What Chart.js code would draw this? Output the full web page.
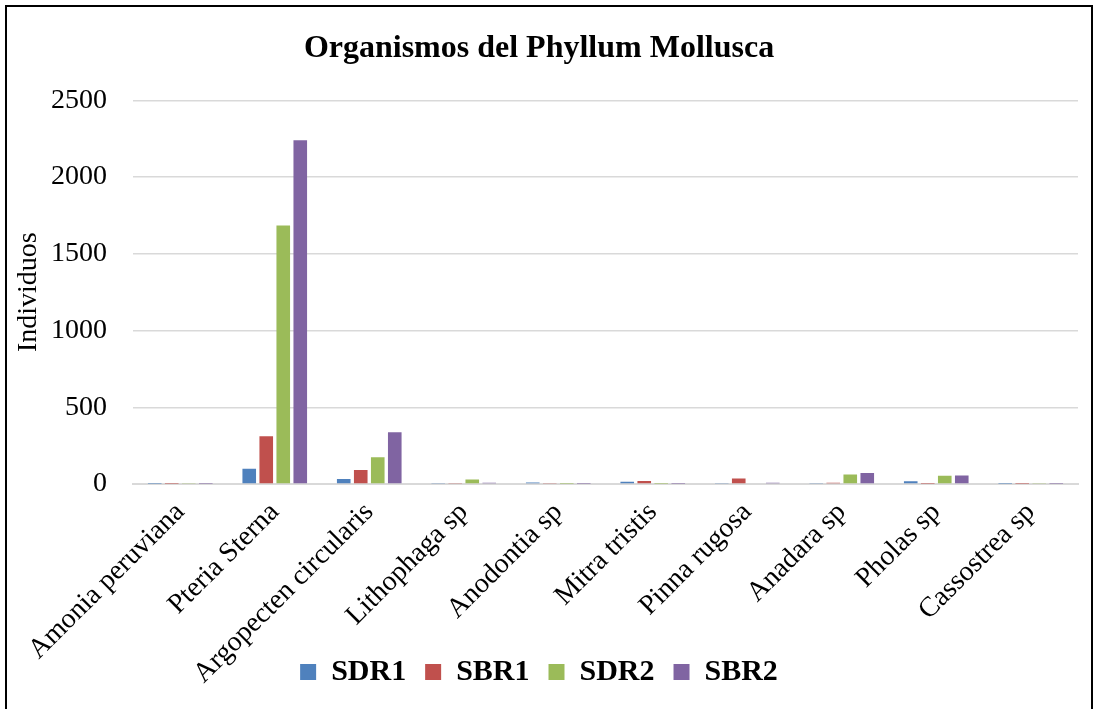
<!DOCTYPE html>
<html>
<head>
<meta charset="utf-8">
<script src="https://cdn.jsdelivr.net/npm/chart.js@4/dist/chart.umd.min.js"></script>
<style>
  body { margin: 0; background: #fff; }
  #frame {
    position: absolute; left: 5px; top: 5px; width: 1088px; height: 800px;
    box-sizing: border-box; border: 2px solid #000;
  }
  #wrap { position: absolute; left: 0; top: 0; width: 1094px; height: 709px; }
</style>
</head>
<body>
<div id="frame"></div>
<div id="wrap"><canvas id="myChart" width="1094" height="709"></canvas></div>
<script>
const species = ['Amonia peruviana', 'Pteria Sterna', 'Argopecten circularis', 'Lithophaga sp',
    'Anodontia sp', 'Mitra tristis', 'Pinna rugosa', 'Anadara sp', 'Pholas sp', 'Cassostrea sp'];

const sdr1 = [2, 100, 32, 3, 9, 15, 3, 3, 18, 2];
const sbr1 = [2, 312, 92, 3, 3, 20, 36, 8, 2, 1];
const sdr2 = [3, 1685, 175, 30, 2, 2, 5, 62, 53, 3];
const sbr2 = [2, 2240, 337, 8, 2, 1, 8, 72, 55, 2];

const yTicks = [0, 500, 1000, 1500, 2000, 2500];

const serif = "'Liberation Serif', 'Times New Roman', serif";

// the rotated category names hang down past the axis box, let them draw there
const labelRoom = {
    id: 'labelRoom',
    afterLayout(chart) {
        chart.scales.x.bottom = chart.height;
    }
};

const ctx = document.getElementById('myChart').getContext('2d');
new Chart(ctx, {
    type: 'bar',
    data: {
        labels: species,
        datasets: [
            { label: 'SDR1', data: sdr1, backgroundColor: '#4F81BD' },
            { label: 'SBR1', data: sbr1, backgroundColor: '#C0504D' },
            { label: 'SDR2', data: sdr2, backgroundColor: '#9BBB59' },
            { label: 'SBR2', data: sbr2, backgroundColor: '#8064A2' }
        ]
    },
    plugins: [labelRoom],
    options: {
        responsive: false,
        animation: false,
        layout: { padding: { left: 0, right: 16, top: 0, bottom: 12 } },
        datasets: {
            bar: { categoryPercentage: 0.72, barPercentage: 0.8 }
        },
        scales: {
            x: {
                grid: { display: false },
                border: { display: true, color: '#D9D9D9', width: 2 },
                ticks: {
                    color: '#000',
                    font: { family: serif, size: 28 },
                    minRotation: 45,
                    maxRotation: 45,
                    padding: 4
                },
                afterFit: scale => { scale.height = 154; }
            },
            y: {
                min: 0,
                max: 2500,
                afterBuildTicks: scale => { scale.ticks = yTicks.map(v => ({ value: v })); },
                grid: { color: '#D9D9D9', lineWidth: 1.5, drawTicks: false },
                border: { display: false },
                ticks: {
                    color: '#000',
                    font: { family: serif, size: 28 },
                    padding: 26,
                    callback: value => String(value)
                },
                title: {
                    display: true,
                    text: 'Individuos',
                    color: '#000',
                    font: { family: serif, size: 28 },
                    padding: { top: 12, bottom: 0 }
                },
                afterFit: scale => { scale.width = 133; }
            }
        },
        plugins: {
            title: {
                display: true,
                text: 'Organismos del Phyllum Mollusca',
                color: '#000',
                font: { family: serif, size: 32, weight: 'bold' },
                padding: { top: 30, bottom: 32 }
            },
            legend: {
                position: 'bottom',
                labels: {
                    color: '#000',
                    font: { family: serif, size: 30, weight: 'bold' },
                    boxWidth: 16,
                    boxHeight: 16,
                    padding: 19
                }
            },
            tooltip: { enabled: false }
        }
    }
});
</script>
</body>
</html>
